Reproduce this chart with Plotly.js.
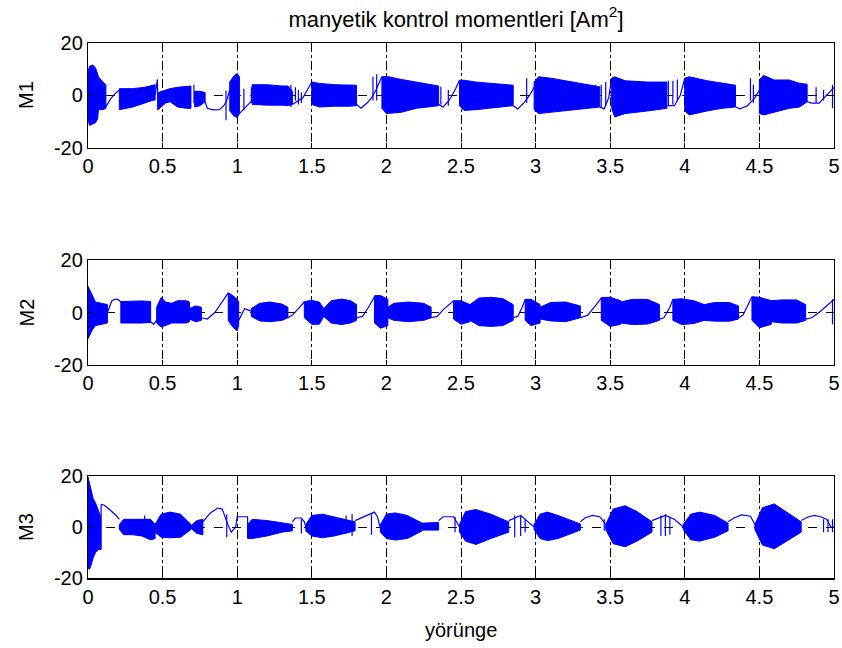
<!DOCTYPE html>
<html>
<head>
<meta charset="utf-8">
<script src="https://cdn.plot.ly/plotly-3.0.1.min.js"></script>
<style>html,body{margin:0;padding:0;background:#fff;}#chart{width:842px;height:648px;}</style>
</head>
<body>
<div id="chart"></div>
<script>
// ---------- data ----------
const xTickVals = [0, 0.5, 1, 1.5, 2, 2.5, 3, 3.5, 4, 4.5, 5];
const xTickText = ['0', '0.5', '1', '1.5', '2', '2.5', '3', '3.5', '4', '4.5', '5'];
const yTickVals = [-20, 0, 20];
const yTickText = ['-20', '0', '20'];
const seriesNames = ['M1', 'M2', 'M3'];

// M1: dense bursts (envelope), thin signal, spikes
const m1BurstX  = [0,0.01,0.03,0.05,0.065,0.07,0.1,0.12,null, 0.21,0.3,0.38,0.43,0.45,null, 0.47,0.52,0.55,0.6,0.66,0.69,null, 0.715,0.75,0.785,null, 0.95,0.98,1.0,1.015,null, 1.1,1.2,1.3,1.34,1.37,null, 1.5,1.55,1.65,1.75,1.8,null, 1.97,2.0,2.1,2.2,2.35,null, 2.49,2.52,2.6,2.7,2.85,null, 2.99,3.02,3.1,3.25,3.43,null, 3.51,3.53,3.6,3.75,3.88,null, 4.0,4.03,4.15,4.25,4.34,null, 4.5,4.53,4.6,4.7,4.77,4.82];
const m1BurstHi = [9,11,11.5,10.5,8,7,5,4,null, 2.5,2.5,3,3.8,4,null, 1,1.8,2.5,3,3.5,3.5,null, 1.5,1.5,1,null, 5,7.5,8.2,7,null, 4,4,3.5,3.5,1.5,null, 5,4.5,4,4,3.8,null, 7,7.2,6,5,3.5,null, 5.7,5.7,5,4.5,3.8,null, 5,7,6.5,5,3.2,null, 6.5,7,5.5,5,5,null, 6.5,7,5.5,4.5,3.8,null, 6,7.5,5.8,5.8,4.5,4.2];
const m1BurstLo = [-9,-11.5,-11,-10.5,-9,-5.5,-5.5,-5,null, -5.5,-4.5,-3,-2,-1.8,null, -5.5,-3,-2.5,-4.5,-5,-5,null, -4.5,-4,-2.5,null, -6,-8,-8.5,-7,null, -3.5,-3.8,-3.8,-4,-3.5,null, -3.5,-4.5,-4.2,-4.2,-4,null, -5,-7,-6.5,-5,-4,null, -4,-5.8,-5.5,-5,-4,null, -5.5,-7,-6.5,-5.5,-4.5,null, -5,-8.3,-7,-6,-5,null, -6,-7.5,-6,-5,-4.5,null, -7,-7.5,-6.5,-5,-4.5,-2.5];
const m1LineX = [0.12,0.15,0.18,0.21,null, 0.45,0.465,0.468,null, 0.785,0.8,0.84,0.88,0.91,0.93,0.95,null, 1.015,1.04,1.07,1.1,null, 1.37,1.4,1.44,1.47,1.5,null, 1.8,1.83,1.87,1.9,1.93,1.97,null, 2.35,2.38,2.42,2.46,2.49,null, 2.85,2.88,2.92,2.96,2.99,null, 3.43,3.46,3.49,3.51,null, 3.88,3.93,3.97,4.0,null, 4.34,4.37,4.42,4.47,4.5,null, 4.82,4.85,4.9,4.95,5.0];
const m1LineY = [-4.5,-1.5,0.5,2,null, 0,6,-5.5,null, -2.5,-5,-5.6,-5.5,-4,-2,2,null, -7,-5.5,-3.5,-2,null, -3.5,-2.5,-1,2,5,null, -3.5,-5,-3,-1,2,7,null, -3.5,-4.5,-2,2,5.7,null, -4,-5.2,-3,0,3,null, -4.5,-5.2,-1,6.5,null, -4,-4,0,6.5,null, -4.5,-5.2,-4,-1,2,null, -2.5,-3,-3,0,3];
const m1SpikeX  = [0.71,0.925,1.045,1.095,1.36,1.39,1.41,1.43,1.91,1.935,2.365,2.415,2.94,3.40,3.44,3.47,3.89,3.92,3.95,4.44,4.46,4.88,4.93,4.99];
const m1SpikeHi = [4,1.8,2.5,3,4,3,2,1,7,8,3.2,2,6.5,4,4,5,5.5,5.5,6,6.5,4,3,2,4];
const m1SpikeLo = [-3,-9.5,-5.7,-3,-4.5,-2,-3.5,-3,-2,-2,-3.5,-4,-3,-5,-5,-4,-4,-3.5,-2,-2,-3,-3,-2,-5];

// M2
const m2BurstX  = [0,0.015,0.03,0.05,0.09,0.13,null, 0.22,0.3,0.36,0.42,null, 0.46,0.49,0.52,0.56,0.6,0.66,0.68,null, 0.68,0.72,0.76,null, 0.94,0.97,1.0,1.01,null, 1.095,1.15,1.22,1.3,1.34,null, 1.45,1.5,1.55,1.58,null, 1.58,1.63,1.7,1.76,1.8,null, 1.92,1.96,2.01,null, 2.01,2.05,2.15,2.25,2.3,null, 2.45,2.5,2.56,null, 2.56,2.62,2.7,2.78,2.85,null, 2.93,2.97,3.03,null, 3.03,3.1,3.2,3.3,null, 3.44,3.5,3.57,null, 3.57,3.65,3.75,3.83,null, 3.92,3.98,4.06,4.13,null, 4.13,4.2,4.3,4.36,null, 4.45,4.5,4.58,null, 4.58,4.65,4.75,4.81];
const m2BurstHi = [10,8,6,4,3.5,3,null, 4.2,4.4,4.4,4.2,null, 2,5.7,4,3.5,4.5,4.5,4,null, 1.5,2.5,2,null, 7.5,6.5,5,4,null, 1.5,3.5,4,3.2,2,null, 4.2,4.6,4,1.5,null, 1.5,4.5,5.1,4.5,3,null, 6.4,6.5,5,null, 2,3.5,4,3.5,2,null, 4.5,4.5,3,null, 3,5.5,5.8,5.3,3,null, 5,5,3,null, 2,3.8,4,2.5,null, 5.7,5.8,4.5,null, 4,5,5,3,null, 5,5.2,4.5,3,null, 3,3.8,3.8,2.5,null, 6,5.8,4.5,null, 4.5,4.8,4.8,3];
const m2BurstLo = [-10,-8.5,-6.5,-5,-4.5,-4,null, -4,-4,-4,-3.8,null, -4,-5.5,-5,-4,-4,-4,-3.5,null, -2.5,-3.5,-3,null, -3,-5.5,-7,-5,null, -1.5,-3.2,-3.5,-3,-2,null, -2,-4.5,-4.5,-1.5,null, -1.5,-4,-4.6,-4,-3,null, -4,-6,-5,null, -2,-3,-3.5,-3,-2,null, -2.5,-4.5,-3.5,null, -3,-5,-5.3,-5,-3,null, -3,-5,-4,null, -2.5,-3.2,-3.5,-2,null, -3,-5.3,-4.5,null, -4,-4.6,-4.4,-3,null, -3,-4.6,-4.2,-3,null, -3,-3.3,-3.3,-2.5,null, -3,-5.8,-4.5,null, -3.5,-4,-4,-3];
const m2LineX = [0.13,0.16,0.18,0.2,0.22,null, 0.42,0.44,0.46,null, 0.76,0.8,0.85,0.9,0.94,null, 1.01,1.03,1.05,1.07,1.095,null, 1.34,1.37,1.41,1.45,null, 1.8,1.84,1.88,1.92,null, 2.3,2.34,2.38,2.42,2.45,null, 2.85,2.88,2.91,2.93,null, 3.3,3.35,3.4,3.44,null, 3.83,3.86,3.9,3.92,null, 4.36,4.39,4.42,4.45,null, 4.81,4.85,4.9,4.95,5.0];
const m2LineY = [0,4.5,5,5,4,null, -3.5,-4.5,-3,null, -2,-2.5,0,4,7.5,null, -3,-1,1.5,1,0.5,null, -2,-1,1.5,4,null, -2,-1.5,2,6,null, -2,-1.5,1,3,4.5,null, -2,-1.5,2,5,null, -2,-1,2.5,5.5,null, -2.5,-2,2,5,null, -2,-1,2.5,6,null, -2.5,-2,0,2.5,5];
const m2SpikeX  = [0.73,4.99];
const m2SpikeHi = [2.5,5];
const m2SpikeLo = [-3.5,-4.5];

// M3
const m3BurstX  = [0,0.01,0.02,0.035,0.05,0.07,0.085,null, 0.21,0.24,0.3,0.36,0.42,0.45,null, 0.45,0.49,0.55,0.62,0.69,null, 0.69,0.73,0.77,null, 1.07,1.1,1.2,1.3,1.37,null, 1.46,1.5,1.57,1.65,1.75,1.79,null, 1.96,2.0,2.06,2.14,2.24,null, 2.24,2.35,null, 2.49,2.53,2.6,2.7,2.82,null, 2.99,3.03,3.08,3.15,3.3,null, 3.47,3.52,3.6,3.68,3.78,null, 3.99,4.04,4.1,4.2,4.29,null, 4.47,4.52,4.6,4.68,4.78];
const m3BurstHi = [19.5,17,14,11,9.5,6,4,null, 1,3,3,3,3,1,null, 1,5,5.8,5,1,null, 0.5,2.5,3,null, 1,3,2.5,1.5,1,null, 1,4.5,5,4,2.5,2,null, 1,5,5.5,4.5,1.5,null, 1.5,1.8,null, 1,6,6.8,5,2,null, 1,5,5.8,4.5,1.2,null, 1,7,8.3,6,2,null, 1,5,5.8,4.5,1.5,null, 1,7.5,9,6,2];
const m3BurstLo = [-16,-16.5,-15,-12,-10,-8.8,-8.8,null, -1,-3,-3,-3.5,-5,-4.5,null, -2,-4,-4.2,-4,-1,null, -0.5,-2.5,-3,null, -4.5,-4.5,-3.5,-2,-1.5,null, -1.5,-3.5,-4.2,-3.5,-2,-1.5,null, -2,-4.5,-5.1,-4.5,-1.5,null, -1.2,-1.2,null, -2,-5.5,-6.8,-4.5,-2,null, -1,-4.5,-5.3,-4.5,-1.2,null, -1,-6.5,-7.7,-5.5,-2,null, -1,-5,-5.5,-4,-1.5,null, -1,-7,-8.5,-5.5,-2];
const m3LineX = [0.088,0.11,0.14,0.18,0.21,null, 0.77,0.82,0.87,0.9,0.93,0.96,0.99,1.0,1.07,1.07,null, 1.37,1.39,1.43,1.45,1.46,null, 1.79,1.83,1.88,1.92,1.94,1.96,null, 2.35,2.38,2.45,2.47,2.49,null, 2.82,2.86,2.9,2.95,2.99,null, 3.3,3.33,3.38,3.43,3.47,null, 3.78,3.82,3.87,3.93,3.99,null, 4.29,4.33,4.38,4.44,4.47,null, 4.78,4.83,4.87,4.91,4.95,4.98,5.0];
const m3LineY = [8.8,8.5,7,5,3,null, 2,5.5,7.4,7,2,-2,0,4,4,-4,null, 2,3.5,3.5,2,0,null, 2.5,3.5,4.5,5.8,4,-0.5,null, 2.5,4,4,2,0,null, 2.5,3.5,4.5,2,0,null, 2,3.5,4.5,4,1,null, 2.5,3.5,4.5,3,0,null, 2,3.5,4.7,4.2,1,null, 2.5,4,4.5,4,3,0,0];
const m3SpikeX  = [0.088,0.38,0.93,1.43,1.73,1.77,1.9,2.46,2.86,2.9,2.93,3.46,3.84,3.87,3.9,4.93,4.96,4.99];
const m3SpikeHi = [8.8,4.5,5,3,4.5,5,5,4,4.5,4.5,3,3,4.5,5,4,3,3,3];
const m3SpikeLo = [-8.8,-2,-4,-2.5,-2.5,-3.5,-3,-2,-4,-3.5,-2,-1.5,-3.5,-3.5,-3,-2,-2,-2];

// ---------- build traces ----------
const BLUE = '#0000ff';
function envelopePolys(bx, hi, lo) {
  const X = [], Y = [];
  let seg = [];
  const flush = () => {
    if (!seg.length) return;
    seg.forEach(i => { X.push(bx[i]); Y.push(hi[i]); });
    for (let k = seg.length - 1; k >= 0; k--) { X.push(bx[seg[k]]); Y.push(lo[seg[k]]); }
    X.push(bx[seg[0]]); Y.push(hi[seg[0]]);
    X.push(null); Y.push(null);
    seg = [];
  };
  bx.forEach((v, i) => { if (v === null) flush(); else seg.push(i); });
  flush();
  return {X, Y};
}
function spikes(sx, hi, lo) {
  const X = [], Y = [];
  sx.forEach((v, i) => { X.push(v, v, null); Y.push(hi[i], lo[i], null); });
  return {X, Y};
}
const sets = [
  [m1BurstX, m1BurstHi, m1BurstLo, m1LineX, m1LineY, m1SpikeX, m1SpikeHi, m1SpikeLo],
  [m2BurstX, m2BurstHi, m2BurstLo, m2LineX, m2LineY, m2SpikeX, m2SpikeHi, m2SpikeLo],
  [m3BurstX, m3BurstHi, m3BurstLo, m3LineX, m3LineY, m3SpikeX, m3SpikeHi, m3SpikeLo]
];
const traces = [];
sets.forEach((s, k) => {
  const xa = k === 0 ? 'x' : 'x' + (k + 1);
  const ya = k === 0 ? 'y' : 'y' + (k + 1);
  const p = envelopePolys(s[0], s[1], s[2]);
  traces.push({x: p.X, y: p.Y, xaxis: xa, yaxis: ya, type: 'scatter', mode: 'lines', fill: 'toself',
    fillcolor: BLUE, line: {color: BLUE, width: 1}, hoverinfo: 'skip', showlegend: false, name: seriesNames[k]});
  traces.push({x: s[3], y: s[4], xaxis: xa, yaxis: ya, type: 'scatter', mode: 'lines',
    line: {color: BLUE, width: 1.2}, connectgaps: false, hoverinfo: 'skip', showlegend: false});
  const sp = spikes(s[5], s[6], s[7]);
  traces.push({x: sp.X, y: sp.Y, xaxis: xa, yaxis: ya, type: 'scatter', mode: 'lines',
    line: {color: BLUE, width: 1.2}, connectgaps: false, hoverinfo: 'skip', showlegend: false});
});

// ---------- layout ----------
const W = 842, H = 648;
const FONT = 'Liberation Sans, Arial, Helvetica, sans-serif';
const xDom = [88 / W, 834 / W];
const yDoms = [[1 - 147.7 / H, 1 - 42.7 / H], [1 - 365 / H, 1 - 260 / H], [1 - 578.3 / H, 1 - 475.7 / H]];
function xAxis(k) {
  return {domain: xDom, anchor: k === 0 ? 'y' : 'y' + (k + 1), range: [0, 5], tickvals: xTickVals, ticktext: xTickText,
    ticks: 'inside', ticklen: 5, tickcolor: '#000', showline: true, mirror: 'ticks', linecolor: '#000', linewidth: 1.2,
    showgrid: true, gridcolor: '#000', gridwidth: 1, griddash: 'dashdot', zeroline: false,
    tickfont: {family: FONT, size: 20, color: '#000'}, fixedrange: true};
}
function yAxis(k) {
  return {domain: yDoms[k], anchor: k === 0 ? 'x' : 'x' + (k + 1), range: [-20, 20], tickvals: yTickVals, ticktext: yTickText,
    ticks: 'inside', ticklen: 5, tickcolor: '#000', showline: true, mirror: 'ticks', linecolor: '#000', linewidth: 1.2,
    showgrid: true, gridcolor: '#000', gridwidth: 1, griddash: 'dash', zeroline: false,
    tickfont: {family: FONT, size: 20, color: '#000'}, fixedrange: true};
}
const layout = {
  width: W, height: H, margin: {l: 0, r: 0, t: 0, b: 0}, paper_bgcolor: '#fff', plot_bgcolor: '#fff',
  showlegend: false,
  title: {text: 'manyetik kontrol momentleri [Am<sup>2</sup>]', font: {family: FONT, size: 22, color: '#000'},
    xref: 'paper', yref: 'paper', x: 456 / W, xanchor: 'center', y: 1 - 19 / H, yanchor: 'middle'},
  xaxis: xAxis(0), yaxis: yAxis(0), xaxis2: xAxis(1), yaxis2: yAxis(1), xaxis3: xAxis(2), yaxis3: yAxis(2),
  annotations: [
    {text: seriesNames[0], xref: 'paper', yref: 'paper', x: 26 / W, y: 1 - 95 / H, showarrow: false, textangle: -90,
      xanchor: 'center', yanchor: 'middle', font: {family: FONT, size: 20, color: '#000'}},
    {text: seriesNames[1], xref: 'paper', yref: 'paper', x: 26 / W, y: 1 - 312.5 / H, showarrow: false, textangle: -90,
      xanchor: 'center', yanchor: 'middle', font: {family: FONT, size: 20, color: '#000'}},
    {text: seriesNames[2], xref: 'paper', yref: 'paper', x: 26 / W, y: 1 - 527 / H, showarrow: false, textangle: -90,
      xanchor: 'center', yanchor: 'middle', font: {family: FONT, size: 20, color: '#000'}},
    {text: 'yörünge', xref: 'paper', yref: 'paper', x: 461 / W, y: 1 - 630 / H, showarrow: false,
      xanchor: 'center', yanchor: 'middle', font: {family: FONT, size: 20, color: '#000'}}
  ]
};
Plotly.newPlot('chart', traces, layout, {staticPlot: true, displayModeBar: false});
</script>
</body>
</html>
